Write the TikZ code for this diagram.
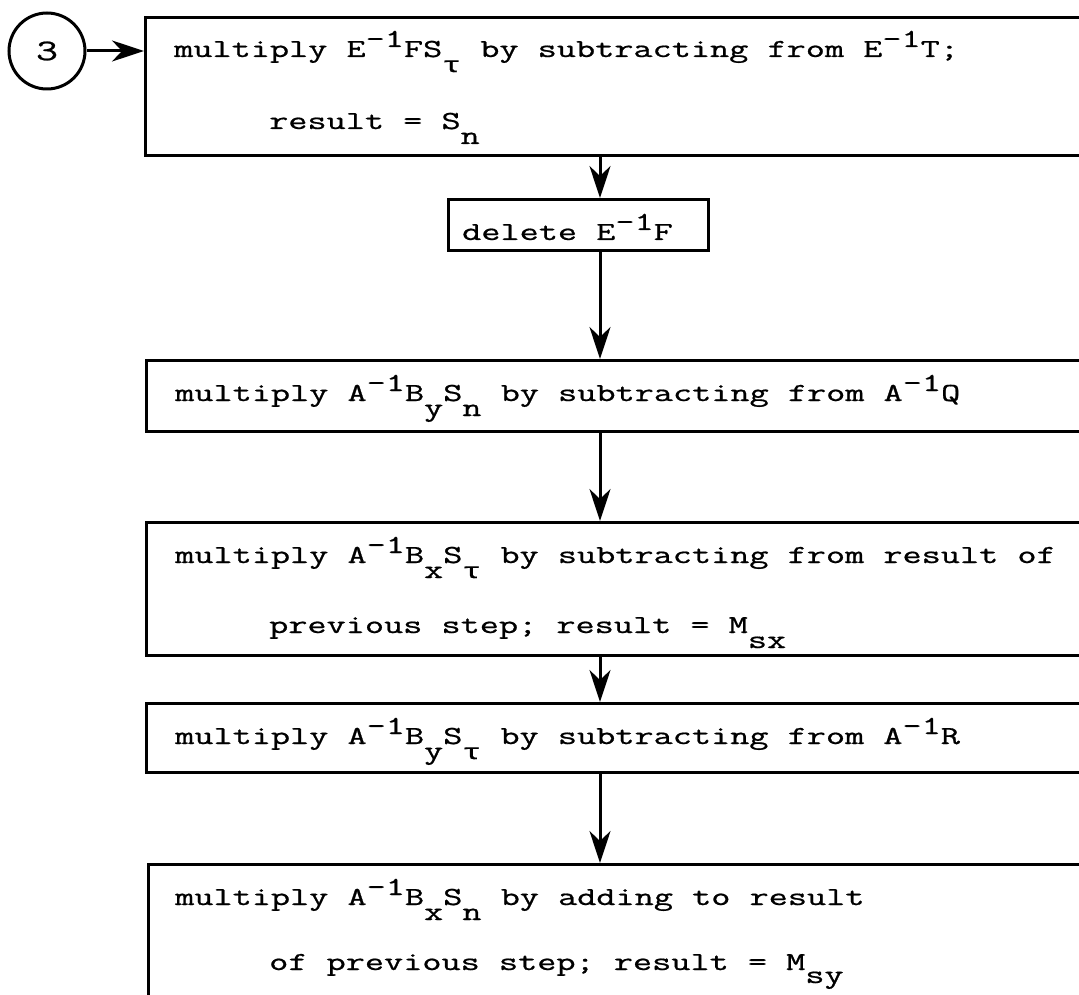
\documentclass[tikz,border=0pt]{standalone}
\usepackage{fontspec}
\usetikzlibrary{arrows.meta}
\newfontfamily\twfont[FakeBold=0.7]{Latin Modern Mono}
\newfontfamily\twgreek[FakeBold=0.5]{Liberation Mono}
\newcommand\tws{\twfont\fontsize{26}{30}\selectfont}
\newcommand\sps[1]{\raisebox{10pt}{#1}}
\newcommand\sbs[1]{\raisebox{-15pt}{#1}}
\newcommand\tauc{{\twgreek\fontsize{22}{26}\selectfont τ}}
\newcommand\twline[1]{\scalebox{1.43}[1]{#1}}
\begin{document}
\begin{tikzpicture}[x=1pt,y=-1pt,
  box/.style={draw, line width=3pt, inner sep=0pt, anchor=north west},
  txt/.style={anchor=base west, inner sep=0pt, font=\tws},
  arr/.style={line width=3pt, -{Stealth[length=32pt,width=21pt,inset=10pt]}}]
\useasboundingbox (0,0) rectangle (1079,995);
\clip (0,0) rectangle (1079,995);
\fill[white] (0,0) rectangle (1079,995);
% boxes
\node[box, minimum width=956pt, minimum height=138pt] (b1) at (144,16) {};
\node[box, minimum width=260pt, minimum height=51pt] (del) at (447,198) {};
\node[box, minimum width=955pt, minimum height=71pt] (b2) at (145,359) {};
\node[box, minimum width=955pt, minimum height=133pt] (b3) at (145,521) {};
\node[box, minimum width=955pt, minimum height=69pt] (b4) at (145,702) {};
\node[box, minimum width=953pt, minimum height=150pt] (b5) at (147,863) {};
% circle
\node[draw, circle, line width=3pt, minimum size=76pt, inner sep=0pt, font=\twfont\fontsize{30}{34}\selectfont] (c3) at (47,51) {\twline{3}};
% texts
\node[txt] (t1a) at (174,57) {\twline{multiply E\sps{-1}FS\sbs{\tauc} by subtracting from E\sps{-1}T;}};
\node[txt] (t1b) at (269,129) {\twline{result = S\sbs{n}}};
\node[txt] (td) at (462,240) {\twline{delete E\sps{-1}F}};
\node[txt] (t2) at (175,401) {\twline{multiply A\sps{-1}B\sbs{y}S\sbs{n} by subtracting from A\sps{-1}Q}};
\node[txt] (t3a) at (175,563) {\twline{multiply A\sps{-1}B\sbs{x}S\sbs{\tauc} by subtracting from result of}};
\node[txt] (t3b) at (269,633) {\twline{previous step; result = M\sbs{sx}}};
\node[txt] (t4) at (175,744) {\twline{multiply A\sps{-1}B\sbs{y}S\sbs{\tauc} by subtracting from A\sps{-1}R}};
\node[txt] (t5a) at (175,905) {\twline{multiply A\sps{-1}B\sbs{x}S\sbs{n} by adding to result}};
\node[txt] (t5b) at (269,970) {\twline{of previous step; result = M\raisebox{-13pt}{sy}}};
% connectors
\coordinate (col) at (600,0);
\draw[arr] (c3.east) -- (c3.east -| b1.west);
\draw[arr] (b1.south -| col) -- (del.north -| col);
\draw[arr] (del.south -| col) -- (b2.north -| col);
\draw[arr] (b2.south -| col) -- (b3.north -| col);
\draw[arr] (b3.south -| col) -- (b4.north -| col);
\draw[arr] (b4.south -| col) -- (b5.north -| col);
\end{tikzpicture}
\end{document}
